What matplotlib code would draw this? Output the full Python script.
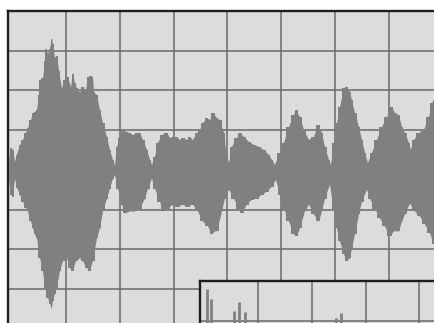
import numpy as np
import matplotlib
matplotlib.use("Agg")
import matplotlib.pyplot as plt

# Waveform envelope of the full recording (frame index, amplitude)
upper_frames = [1, 3, 5, 7, 9, 12, 15, 18, 20, 23, 25, 27, 29, 31, 32, 35, 37, 38, 40, 42,
                44, 45, 47, 49, 51, 54, 57, 60, 63, 65, 67, 69, 72, 75, 78, 80, 83, 85, 86, 89,
                92, 95, 99, 102, 105, 107, 109, 112, 115, 119, 122, 125, 129, 132, 135, 139,
                142, 144, 147, 150, 154, 159, 162, 165, 169, 172, 175, 179, 182, 185, 189, 192,
                195, 199, 202, 205, 209, 212, 216, 219, 221, 224, 229, 232, 236, 241, 246, 251,
                256, 261, 264, 267, 272, 276, 281, 286, 288, 292, 296, 301, 306, 310, 314, 317,
                321, 323, 326, 329, 332, 336, 339, 342, 344, 347, 351, 354, 357, 360, 364, 369,
                374, 379, 384, 387, 391, 394, 397, 401, 403, 406, 411, 416, 421, 424, 426, 432]
upper_amp = [10, 22, 20, 8, 15, 25, 30, 37, 42, 50, 57, 58, 60, 75, 90, 92, 110, 122, 117, 122,
             132, 127, 113, 115, 100, 82, 90, 93, 83, 97, 87, 82, 78, 83, 80, 93, 95, 93, 78, 75,
             60, 47, 33, 20, 10, 4, 23, 32, 40, 38, 37, 35, 37, 37, 30, 20,
             10, 5, 13, 27, 35, 37, 32, 33, 33, 30, 32, 30, 33, 30, 37, 40,
             47, 52, 50, 57, 52, 50, 37, 13, 7, 23, 32, 37, 33, 28, 25, 23,
             20, 15, 10, 5, 17, 27, 43, 55, 60, 53, 40, 30, 33, 45, 37, 23,
             10, 5, 27, 47, 63, 82, 83, 78, 70, 57, 43, 30, 17, 7, 17, 30,
             43, 53, 63, 57, 55, 43, 37, 27, 20, 30, 37, 40, 53, 67, 70, 75]

lower_frames = [1, 3, 5, 7, 9, 12, 15, 18, 20, 23, 25, 27, 29, 32, 35, 37, 40, 42, 44, 45,
                47, 49, 52, 55, 59, 62, 65, 68, 72, 75, 79, 82, 85, 89, 92, 95, 99, 102, 105,
                107, 110, 114, 117, 122, 127, 132, 137, 140, 144, 147, 152, 155, 160, 165, 170,
                175, 180, 185, 190, 195, 200, 204, 207, 209, 214, 217, 221, 226, 231, 234, 239,
                244, 249, 254, 259, 264, 268, 272, 276, 281, 286, 289, 292, 297, 301, 306, 311,
                314, 317, 322, 326, 329, 332, 336, 339, 342, 344, 347, 351, 354, 359, 362, 367,
                372, 377, 382, 386, 391, 394, 397, 402, 407, 412, 417, 422, 426, 432]
lower_amp = [-10, -25, -27, -9, -18, -25, -32, -38, -42, -52, -59, -65, -69, -89, -102, -119,
             -129, -135, -139, -132, -125, -119, -102, -92, -89, -99, -102, -92, -89, -92, -99,
             -102, -92, -69, -59, -42, -29, -19, -9, -5, -19, -35, -44, -42, -42, -39, -29,
             -19, -9, -19, -32, -42, -39, -35, -37, -35, -37, -35, -42, -52, -57, -65, -62,
             -62, -42, -29, -20, -29, -39, -44, -35, -30, -29, -25, -22, -17, -10, -25, -39,
             -52, -65, -67, -59, -42, -35, -45, -52, -42, -29, -15, -42, -59, -72, -85, -92,
             -89, -79, -65, -45, -32, -20, -29, -39, -49, -57, -67, -62, -62, -52, -45, -34,
             -42, -47, -55, -64, -75, -80]

# Onset detail shown in the lower-right panel
onset_frames = [7, 11, 34, 39, 45, 136, 141]
onset_amp = [152, 142, 130, 139, 129, 123, 128]

W, H = 434, 323
BG = "#dcdcdc"
WAVE = "#808080"
GRID = "#6a6a6a"
TICKS = np.arange(58, 440, 53.8)

fig = plt.figure(figsize=(W / 100, H / 100), dpi=100)
fig.patch.set_facecolor("white")


def style(ax, width):
    ax.set_facecolor(BG)
    ax.set_xlim(0, width)
    ax.set_ylim(-160, 160)
    ax.set_xticks(TICKS[TICKS < width])
    ax.set_yticks([-120, -80, -40, 0, 40, 80, 120])
    ax.grid(True, color=GRID, linewidth=1.1)
    ax.set_axisbelow(True)
    ax.tick_params(length=0, labelbottom=False, labelleft=False)
    for s in ax.spines.values():
        s.set_linewidth(1.7)
        s.set_color("#1e1e1e")


# main waveform panel, running off the right and bottom edges
ax_h = 317.6
main = fig.add_axes([8 / W, (H - 11 - ax_h) / H, 438 / W, ax_h / H])
style(main, 438)
main.fill(upper_frames + lower_frames[::-1], upper_amp + lower_amp[::-1],
          color=WAVE, linewidth=0, zorder=3)
# stepped edges give the ragged look of the sampled signal
main.fill_between(upper_frames, 0, upper_amp, step="mid", color=WAVE,
                  linewidth=0, zorder=3)
main.fill_between(lower_frames, lower_amp, 0, step="mid", color=WAVE,
                  linewidth=0, zorder=3)

# zoomed onset panel
inset = fig.add_axes([200 / W, (H - 281 - ax_h) / H, 240 / W, ax_h / H])
style(inset, 240)
inset.vlines(onset_frames, [-a for a in onset_amp], onset_amp,
             color=WAVE, linewidth=2.0, zorder=3)

fig.savefig("out.png", dpi=100)
